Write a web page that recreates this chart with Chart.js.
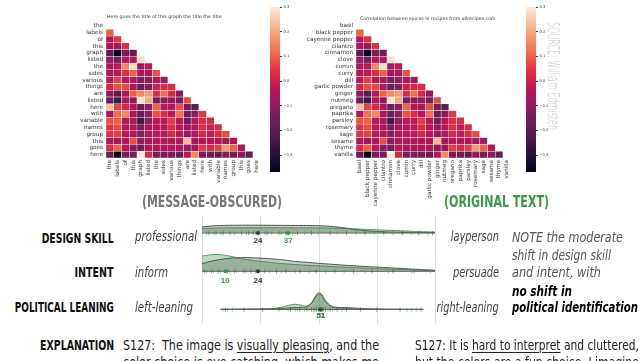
<!DOCTYPE html>
<html>
<head>
<meta charset="utf-8">
<script src="https://cdn.jsdelivr.net/npm/chart.js@4.4.1/dist/chart.umd.min.js"></script>
<style>
  body { margin: 0; width: 641px; height: 361px; overflow: hidden; background: #fff; position: relative;
         font-family: "Liberation Sans Narrow", "DejaVu Sans Condensed", "DejaVu Sans", sans-serif; }
  canvas { position: absolute; }
  .t { position: absolute; white-space: nowrap; line-height: 16px; }
  .ttl { font-family: "DejaVu Sans"; font-size: 4.7px; color: #333; line-height: 8px; }
  .hd { font-weight: bold; font-size: 16px; line-height: 20px; }
  .rl { font-weight: bold; font-size: 14px; color: #111; right: 527px; }
  .it { font-style: italic; font-size: 14px; color: #444; }
  .note { font-style: italic; font-size: 14px; color: #555; left: 512px; }
  .nb { font-weight: bold; color: #000; }
  .ex { font-size: 14px; color: #222; }
  u { text-decoration-thickness: 1px; text-underline-offset: 2px; }
</style>
</head>
<body>
<canvas id="hmL" width="210" height="200" style="left:56px;top:10px"></canvas>
<canvas id="cbL" width="40" height="180" style="left:262px;top:0px"></canvas>
<canvas id="hmR" width="210" height="200" style="left:306px;top:10px"></canvas>
<canvas id="cbR" width="40" height="180" style="left:518px;top:0px"></canvas>
<canvas id="d1" width="245" height="30" style="left:196px;top:216px"></canvas>
<canvas id="d2" width="245" height="40" style="left:196px;top:246px"></canvas>
<canvas id="d3" width="245" height="38" style="left:196px;top:286px"></canvas>

<div class="t ttl" style="left:107px;top:13px">Here goes the title of this graph the title the title</div>
<div class="t ttl" style="left:360px;top:15px">Correlation between spices in recipes from allrecipes.com</div>
<div class="t" id="src" style="font-size:15px;color:#bdbdbd;font-family:'DejaVu Sans';font-weight:200">SOURCE: William Edmisten</div>

<div class="t hd" data-w="140" style="left:142px;top:192px;color:#777">(MESSAGE-OBSCURED)</div>
<div class="t hd" data-w="105" style="left:444px;top:192px;color:#3a9a4a">(ORIGINAL TEXT)</div>

<div class="t rl r" data-w="72" style="top:230px">DESIGN SKILL</div>
<div class="t rl r" data-w="39" style="top:264px">INTENT</div>
<div class="t rl r" data-w="99" style="top:299px">POLITICAL LEANING</div>
<div class="t rl r" data-w="74" style="top:337px">EXPLANATION</div>

<div class="t it" data-w="62" style="left:135px;top:228px">professional</div>
<div class="t it" data-w="33" style="left:135px;top:264px">inform</div>
<div class="t it" data-w="58" style="left:135px;top:299px">left-leaning</div>
<div class="t it r" data-w="48" style="right:142px;top:228px">layperson</div>
<div class="t it r" data-w="46" style="right:142px;top:264px">persuade</div>
<div class="t it r" data-w="62" style="right:142px;top:299px">right-leaning</div>

<div class="t note" data-w="111" style="top:229px">NOTE the moderate</div>
<div class="t note" data-w="99" style="top:247px">shift in design skill</div>
<div class="t note" data-w="89" style="top:264px">and intent, with</div>
<div class="t note nb" data-w="60" style="top:283px">no shift in</div>
<div class="t note nb" data-w="126" style="top:299px">political identification</div>

<div class="t ex" data-w="256" style="left:123px;top:337px">S127:&nbsp; The image is <u>visually pleasing</u>, and the</div>
<div class="t ex" data-w="256" style="left:123px;top:354px">color choice is eye catching, which makes me</div>
<div class="t ex" data-w="224" style="left:415px;top:337px">S127: It is <u>hard to interpret</u> and cluttered,</div>
<div class="t ex" data-w="224" style="left:415px;top:354px">but the colors are a fun choice. I imagine</div>

<script>
// heatmap labels
const wordLabels = ['the', 'labels', 'of', 'this', 'graph', 'listed', 'the', 'sides', 'various', 'things',
  'are', 'listed', 'here', 'with', 'variable', 'names', 'group', 'this', 'goes', 'here'];
const spiceLabels = ['basil', 'black pepper', 'cayenne pepper', 'cilantro', 'cinnamon', 'clove', 'cumin', 'curry',
  'dill', 'garlic powder', 'ginger', 'nutmeg', 'oregano', 'paprika', 'parsley', 'rosemary', 'sage', 'sesame',
  'thyme', 'vanilla'];

// lower triangle of correlations, row 1..19
const corr = [
  [0.10],
  [-0.03, 0.04],
  [-0.06, -0.08, 0.04],
  [-0.20, -0.37, -0.15, -0.17],
  [-0.10, -0.15, -0.05, -0.05, 0.28],
  [-0.06, -0.04, 0.15, 0.28, -0.08, -0.04],
  [-0.04, -0.03, 0.03, 0.10, -0.08, -0.07, 0.08],
  [-0.03, 0.06, -0.04, -0.05, -0.15, -0.10, -0.05, -0.08],
  [0.02, 0.08, 0.07, -0.05, -0.18, -0.12, 0.00, 0.02, 0.03],
  [-0.10, -0.20, -0.05, 0.10, 0.15, 0.18, 0.03, 0.12, 0.02, -0.10],
  [-0.17, -0.25, -0.05, -0.10, 0.29, 0.20, -0.15, -0.10, -0.09, -0.15, 0.07],
  [0.24, 0.06, 0.02, -0.05, -0.17, -0.12, 0.10, -0.04, -0.05, 0.08, -0.16, -0.18],
  [-0.04, 0.12, 0.15, -0.05, -0.17, -0.10, 0.08, 0.03, -0.03, 0.12, -0.16, -0.12, 0.05],
  [0.08, 0.10, -0.04, -0.06, -0.25, -0.10, -0.03, -0.03, 0.05, -0.03, -0.17, -0.05, 0.03, 0.02],
  [0.04, 0.07, -0.04, -0.05, -0.15, -0.06, -0.04, -0.04, 0.03, -0.04, -0.10, -0.05, 0.03, -0.02, 0.03],
  [0.04, 0.06, -0.04, -0.05, -0.12, -0.05, -0.03, -0.04, 0.02, -0.04, -0.10, -0.05, 0.02, -0.02, 0.03, 0.07],
  [-0.06, -0.08, -0.05, 0.08, -0.12, -0.05, -0.05, -0.05, -0.05, -0.05, 0.23, -0.08, -0.05, -0.05, -0.05, -0.08, -0.06],
  [0.03, 0.10, -0.03, -0.12, -0.15, -0.05, -0.05, -0.05, -0.05, -0.05, -0.10, -0.08, 0.05, 0.02, 0.06, 0.18, 0.10, -0.04],
  [-0.17, -0.37, -0.15, -0.15, 0.30, 0.02, -0.15, -0.14, -0.15, -0.17, -0.04, 0.15, -0.15, -0.17, -0.20, -0.10, -0.15, -0.12, -0.18]
];
const cbTicks = [-0.3, -0.2, -0.1, 0.0, 0.1, 0.2, 0.3];
const vmin = -0.368, vmax = 0.3;

// density rows: x grid, gray (obscured) and green (original) curves
const designX = [0, 5, 10, 15, 20, 25, 30, 35, 40, 45, 50, 55, 60, 65, 70, 75, 80, 85, 90, 95, 100];
const designGray = [9, 10.5, 11.2, 11.4, 11.5, 11.4, 11.3, 11.2, 11.1, 11, 10.7, 9.8, 8, 5.6, 3.6, 2.3, 1.6, 1.2, 0.9, 0.7, 0.5];
const designGreen = [6.5, 7.2, 7.5, 7.6, 7.6, 7.6, 7.6, 7.6, 7.5, 7.5, 7.4, 7.2, 6.8, 6.2, 5.5, 4.8, 4.0, 3.3, 2.6, 2.0, 1.4];
const intentX = [0, 3, 6, 9, 12, 15, 18, 21, 25, 30, 35, 40, 45, 50, 55, 60, 65, 70, 75, 80, 85, 90, 95, 100];
const intentGray = [10, 12.5, 14.5, 16, 17.2, 17.8, 18, 17.8, 17.3, 16.3, 15, 13, 11.8, 10.5, 9.4, 8.3, 7.3, 6.4, 5.6, 4.8, 3.9, 3.0, 2.2, 1.4];
const intentGreen = [20, 21.3, 22, 21.4, 19.9, 17.8, 16.0, 14.6, 13.0, 11.4, 10.0, 8.9, 8.0, 7.2, 6.4, 5.7, 5.0, 4.3, 3.6, 3.0, 2.4, 1.9, 1.4, 1.0];
const polX = [8, 15, 20, 25, 30, 34, 37, 40, 43, 45, 47, 48, 49, 50, 51, 52, 53, 55, 57, 60, 63, 66, 70, 75, 80, 85, 90, 95];
const polGray = [0.3, 0.5, 0.6, 0.7, 0.9, 1.3, 2, 2.6, 2.8, 4, 9, 14, 19, 22, 21.5, 17, 12, 5.5, 3.2, 2.6, 2.4, 1.8, 1.1, 0.7, 0.5, 0.4, 0.3, 0.2];
const polGreen = [0.2, 0.4, 0.5, 0.7, 1.2, 3, 5.5, 7, 5.5, 4.5, 8.5, 13, 17.5, 20, 19.5, 15, 10, 4.5, 2.2, 1.5, 1.3, 1, 0.8, 0.6, 0.5, 0.4, 0.3, 0.2];

// individual ratings (rug) and medians
const designRugGray = [3, 6, 9, 12, 17, 20, 22, 24, 28, 33, 36, 41, 47, 55, 62, 70, 78, 86, 93, 99];
const designRugGreen = [2, 5, 8, 14, 19, 23, 27, 30, 34, 37, 39, 44, 50, 58, 66, 74, 82, 90, 97];
const intentRugGray = [1, 4, 7, 11, 14, 18, 21, 24, 27, 32, 36, 42, 49, 57, 65, 73, 82, 91];
const intentRugGreen = [2, 5, 8, 10, 12, 15, 19, 23, 29, 34, 40, 46, 53, 61, 70, 80, 90, 98];
const polRugGray = [10, 18, 26, 33, 38, 42, 45, 47, 48, 49, 50, 51, 52, 53, 55, 58, 62, 68, 75, 85, 94];
const polRugGreen = [9, 11, 13, 37, 40, 41, 44, 46, 48, 49, 50, 51, 52, 54, 56, 60, 88, 90, 92];
const medians = { design: [24, 37], intent: [24, 10], pol: [51, 51] };
const gridVals = [0, 25, 50, 75, 100];

const GREEN = '#3a9a4a', DARK = '#333';
const rocket = ['#03051a', '#221331', '#451c47', '#6a1f56', '#921c5b', '#b91657', '#dd2c45', '#f06043', '#f5926a', '#f6bc99', '#faebdd'];
const hex = h => [1, 3, 5].map(i => parseInt(h.slice(i, i + 2), 16));
function cmap(v) {
  let t = Math.min(1, Math.max(0, (v - vmin) / (vmax - vmin))) * 10;
  const i = Math.min(9, Math.floor(t)), f = t - i;
  const a = hex(rocket[i]), b = hex(rocket[i + 1]);
  return `rgb(${a.map((x, k) => Math.round(x + (b[k] - x) * f)).join(',')})`;
}

const base = { animation: false, responsive: false, events: [],
  plugins: { legend: { display: false }, tooltip: { enabled: false } } };

function heatmap(id, labels) {
  const datasets = labels.slice(0, -1).map((_, c) => ({
    data: labels.map((_, r) => r > c ? [c, c + 1] : null),
    backgroundColor: ctx => ctx.dataIndex > c ? cmap(corr[ctx.dataIndex - 1][c]) : 'transparent',
    borderColor: '#fff', borderWidth: 0.5, borderSkipped: false,
    barPercentage: 1, categoryPercentage: 1, grouped: false
  }));
  const font = { family: 'DejaVu Sans', size: 5.7 };
  new Chart(document.getElementById(id), {
    type: 'bar',
    data: { labels, datasets },
    options: { ...base, indexAxis: 'y',
      layout: { padding: { top: 12.5, right: 5.4, left: 0, bottom: 0 } },
      scales: {
        x: { type: 'linear', min: 0, max: 20, grid: { display: false, drawTicks: false }, border: { display: false },
          afterBuildTicks: s => { s.ticks = labels.map((_, i) => ({ value: i + 0.5 })); },
          afterFit: s => { s.height = 52; },
          ticks: { autoSkip: false, minRotation: 90, maxRotation: 90, padding: 2, font, color: '#333',
            callback: (v, i) => labels[i] } },
        y: { grid: { display: false, drawTicks: false }, border: { display: false },
          afterFit: s => { s.width = 50; },
          ticks: { autoSkip: false, padding: 3, font, color: '#333' } }
      } }
  });
}

const gradientBar = { id: 'grad', beforeDatasetsDraw(chart) {
  const { ctx, chartArea: a } = chart;
  const g = ctx.createLinearGradient(0, a.bottom, 0, a.top);
  rocket.forEach((c, i) => g.addColorStop(i / 10, c));
  ctx.fillStyle = g;
  ctx.fillRect(a.left, a.top, a.right - a.left, a.bottom - a.top);
} };

function colorbar(id) {
  new Chart(document.getElementById(id), {
    type: 'scatter', data: { datasets: [] }, plugins: [gradientBar],
    options: { ...base,
      layout: { padding: { top: 7, bottom: 8, left: 8, right: 0 } },
      scales: {
        x: { display: false },
        y: { position: 'right', min: vmin, max: vmax, border: { display: false },
          grid: { drawOnChartArea: false, tickLength: 2, color: '#444' },
          afterBuildTicks: s => { s.ticks = cbTicks.map(v => ({ value: v })); },
          afterFit: s => { s.width = 22; },
          ticks: { padding: 1.5, color: '#333', font: { family: 'DejaVu Sans', size: 3.6 },
            callback: v => v.toFixed(1).replace('-', '\u2212') } }
      } }
  });
}

heatmap('hmL', wordLabels);
heatmap('hmR', spiceLabels);
colorbar('cbL');
colorbar('cbR');

const densityDeco = { id: 'deco',
  beforeDatasetsDraw(chart) {
    const { ctx, scales: { x } } = chart;
    ctx.save();
    ctx.strokeStyle = '#dedede'; ctx.lineWidth = 1;
    gridVals.forEach(v => {
      const px = Math.round(x.getPixelForValue(v)) + 0.5;
      ctx.beginPath(); ctx.moveTo(px, 0); ctx.lineTo(px, chart.height); ctx.stroke();
    });
    ctx.restore();
  },
  afterDatasetsDraw(chart, args, opts) {
    const { ctx, scales: { x, y } } = chart;
    ctx.save();
    ctx.font = 'bold 8px "Liberation Sans", sans-serif';
    ctx.textAlign = 'center'; ctx.textBaseline = 'middle';
    opts.marks.forEach((m, i) => {
      ctx.fillStyle = i === 0 ? DARK : GREEN;
      ctx.fillText(String(m), x.getPixelForValue(m), y.getPixelForValue(0) + opts.dy);
    });
    ctx.restore();
  } };

function density(id, xs, gray, green, rugGray, rugGreen, marks, ymin, ymax, dy) {
  const pts = ys => xs.map((x, i) => ({ x, y: ys[i] }));
  const rug = (vals, color) => ({ type: 'scatter', data: vals.map(v => ({ x: v, y: 0 })), pointStyle: 'line',
    rotation: 90, pointRadius: 2.2, borderColor: color, borderWidth: 0.7, order: 0 });
  new Chart(document.getElementById(id), {
    type: 'line',
    data: { datasets: [
      { data: pts(green), fill: 'origin', backgroundColor: 'rgba(60,150,70,0.35)', borderColor: '#4f9e5f',
        borderWidth: 1, pointRadius: 0, tension: 0.4, order: 3 },
      { data: pts(gray), fill: 'origin', backgroundColor: 'rgba(90,90,90,0.33)', borderColor: '#555',
        borderWidth: 1, pointRadius: 0, tension: 0.4, order: 2 },
      { data: [{ x: xs[0], y: 0 }, { x: xs[xs.length - 1], y: 0 }], borderColor: '#666', borderWidth: 1,
        pointRadius: 0, order: 1 },
      rug(rugGray, 'rgba(60,60,60,0.7)'),
      rug(rugGreen, 'rgba(58,154,74,0.7)'),
      { type: 'scatter', data: [{ x: marks[0], y: 0 }], pointRadius: 2, backgroundColor: DARK, borderWidth: 0, order: 0 },
      { type: 'scatter', data: [{ x: marks[1], y: 0 }], pointRadius: 2, backgroundColor: GREEN, borderWidth: 0, order: 0 }
    ] },
    plugins: [densityDeco],
    options: { ...base,
      plugins: { ...base.plugins, deco: { marks, dy } },
      layout: { padding: { left: 6, right: 6, top: 0, bottom: 0 } },
      scales: { x: { type: 'linear', min: 0, max: 100, display: false },
        y: { min: ymin, max: ymax, display: false } } }
  });
}

density('d1', designX, designGray, designGreen, designRugGray, designRugGreen, medians.design, -12, 18, 8);
density('d2', intentX, intentGray, intentGreen, intentRugGray, intentRugGreen, medians.intent, -13, 27, 9);
density('d3', polX, polGray, polGreen, polRugGray, polRugGreen, medians.pol, -13, 25, 6);

// squeeze text blocks to the widths of the condensed original typeface
document.querySelectorAll('[data-w]').forEach(el => {
  const k = +el.dataset.w / el.getBoundingClientRect().width;
  el.style.transformOrigin = el.classList.contains('r') ? 'right center' : 'left center';
  el.style.transform = `scaleX(${k})`;
});
const src = document.getElementById('src');
const sw = src.getBoundingClientRect().width;
src.style.left = (553 - sw / 2) + 'px';
src.style.top = (76 - 8) + 'px';
src.style.transform = `rotate(90deg) scaleX(${108 / sw})`;
</script>
</body>
</html>
